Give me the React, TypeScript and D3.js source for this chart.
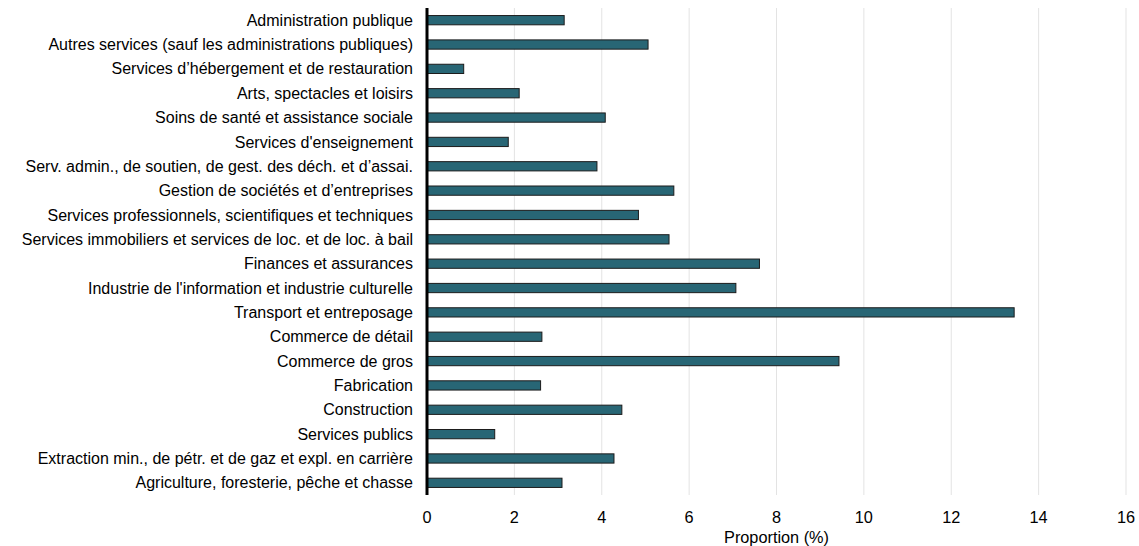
import React from "react";
import * as d3 from "d3";

const categories = [
  "Administration publique",
  "Autres services (sauf les administrations publiques)",
  "Services d’hébergement et de restauration",
  "Arts, spectacles et loisirs",
  "Soins de santé et assistance sociale",
  "Services d'enseignement",
  "Serv. admin., de soutien, de gest. des déch. et d’assai.",
  "Gestion de sociétés et d’entreprises",
  "Services professionnels, scientifiques et techniques",
  "Services immobiliers et services de loc. et de loc. à bail",
  "Finances et assurances",
  "Industrie de l'information et industrie culturelle",
  "Transport et entreposage",
  "Commerce de détail",
  "Commerce de gros",
  "Fabrication",
  "Construction",
  "Services publics",
  "Extraction min., de pétr. et de gaz et expl. en carrière",
  "Agriculture, foresterie, pêche et chasse",
];

const values = [
  3.14, 5.06, 0.84, 2.11, 4.08, 1.86, 3.89, 5.65, 4.84, 5.54,
  7.61, 7.07, 13.44, 2.63, 9.43, 2.6, 4.46, 1.55, 4.28, 3.09,
];

const xTicks = [0, 2, 4, 6, 8, 10, 12, 14, 16];
const xTitle = "Proportion (%)";

export default function App() {
  const W = 1139;
  const H = 546;
  const left = 427;
  const right = 1126;
  const top = 8;
  const bottom = 495;
  const x = d3.scaleLinear().domain([0, 16]).range([left, right]);
  const y = d3.scaleBand<string>().domain(categories).range([top, bottom]).paddingInner(0.62).paddingOuter(0.31);
  const font = "'Liberation Sans', Arial, sans-serif";

  return (
    <svg width={W} height={H} style={{ position: "absolute", left: 0, top: 0 }} fontFamily={font}>
      <rect width={W} height={H} fill="#fff" />
      {xTicks.filter((t) => t > 0).map((t) => (
        <line key={"g" + t} x1={x(t)} x2={x(t)} y1={top} y2={bottom} stroke="#e3e3e3" strokeWidth={1} />
      ))}
      {categories.map((c, i) => (
        <rect
          key={c}
          x={x(0)}
          y={y(c)!}
          width={x(values[i]) - x(0)}
          height={y.bandwidth()}
          fill="#286675"
          stroke="#1c1c1c"
          strokeWidth={1}
        />
      ))}
      <line x1={x(0)} x2={x(0)} y1={top} y2={bottom} stroke="#000" strokeWidth={3} />
      {categories.map((c) => (
        <text
          key={"l" + c}
          x={413}
          y={y(c)! + y.bandwidth() / 2}
          dy="0.35em"
          textAnchor="end"
          fontSize={16}
          fill="#000"
        >
          {c}
        </text>
      ))}
      {xTicks.map((t) => (
        <text key={"t" + t} x={x(t)} y={523} textAnchor="middle" fontSize={16.3} fill="#000">
          {t}
        </text>
      ))}
      <text x={(left + right) / 2} y={543} textAnchor="middle" fontSize={16.3} fill="#000">
        {xTitle}
      </text>
    </svg>
  );
}
